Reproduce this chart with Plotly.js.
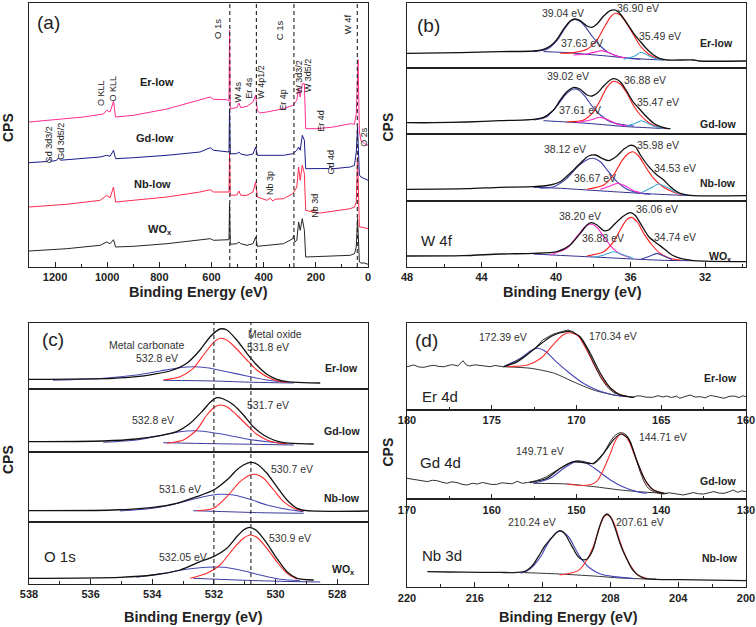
<!DOCTYPE html>
<html><head><meta charset="utf-8">
<script src="https://cdn.plot.ly/plotly-3.0.1.min.js"></script>
<style>html,body{margin:0;padding:0;background:#fff}#chart{width:756px;height:627px}</style>
</head><body><div id="chart"></div>
<script>
// ===== (a) survey spectra: binding energy (eV) and counts (arb.) =====
const surveyErBE = [1300,1219,1091,1015,1002,989,976,968,899,771,644,605,592,541,533,531,528,503,495,488,464,441,431,424,416,388,324,288,273,266,260,252,244,239,196,132,68,52,45,38,33,27,14,0];
const surveyErI  = [145,146.7,150,153,156.7,155,165.7,150,151.7,158,166.7,170,167.7,167.3,166,237,158.3,159.3,164,159.3,160.7,165,171.7,156.7,154,155,158.3,161.7,166.7,178.3,170,183.3,183.3,138.3,138.3,140,143.3,142.7,153.3,207.3,135,126.7,123.3,121.7];
const surveyGdBE = [1300,1230,1222,1212,1195,1187,1178,1027,1002,989,976,968,899,771,644,605,592,536,533,531,528,503,495,488,464,441,431,424,388,324,288,273,266,260,252,244,239,196,150,145,140,132,68,52,45,40,33,27,14,0];
const surveyGdI  = [104.3,105.5,108,105.8,106.5,109,106.8,110,111.7,110.7,116.7,108.3,109.3,111.7,115,119.3,116.7,115,115,158.3,113.3,113.3,115,113,111.7,113,120,111.7,111.7,111.7,113.3,116.7,120,116.7,131.7,126.7,98.3,98.3,98.5,101,98.5,98.3,100,101.7,115,140,92,90,88.3,86.7];
const surveyNbBE = [1300,1155,1027,1002,989,976,968,899,771,644,605,592,536,533,531,528,503,495,488,464,441,431,424,388,375,365,356,324,288,273,266,260,252,244,239,212,207,202,183,68,52,45,40,33,27,14,0];
const surveyNbI  = [60,62.7,66.7,71.7,69.3,80,65,66.7,70,75,77.3,75,75,75,113.7,71.7,72,76,71.7,71.7,75,85,70,66.7,68.8,66,67.8,68.3,73.3,80,100,86.7,101.7,93.3,56.7,55,58,54.5,54,58.3,60,65,110,40,40,39,38.3];
const surveyWoBE = [1300,1155,1027,1002,989,976,968,899,771,644,605,592,536,533,531,528,503,495,488,464,441,431,424,388,324,288,285,280,273,266,260,252,244,239,196,132,68,52,45,40,33,27,14,0];
const surveyWoI  = [16,18.3,21.7,25,23.3,27.3,20,20.7,23.3,26.7,28.3,26.7,27.3,27.3,64,22.7,23.3,25,23.3,21.7,23.3,30,20.7,21.7,23.3,28.3,31.7,25,26.7,45,36.7,48.3,36.7,10,10.3,11,11.7,13.3,20,48.3,5,4,4,2.7];
const surveyRefLines = [530, 428, 284, 41];
const surveyLabels = [['O 1s',218,29],['C 1s',279.3,30],['W 4f',348.3,24],['O KLL',101.7,93.3],['O KLL',113.3,88.3],['W 3d3/2',299,76.7],['W 3d5/2',308.3,75],['W 4s',237.7,91.7],['Er 4s',249.3,87.5],['W 4p1/2',261,81.7],['Er 4p',283.3,99.5],['Er 4d',321,120.8],['O 2s',364,136.7],['Gd 3d3/2',49.3,145],['Gd 3d5/2',61,141.7],['Gd 4d',330,162.5],['Nb 3p',270.7,183.3],['Nb 3d',315,205.8]];

// ===== (b) W 4f : [BE, counts] =====
const bErEnv = [[48,15],[45.15,15.7],[43,16.7],[41.21,17.3],[40.67,19],[40.31,22.3],[39.95,29],[39.6,39],[39.24,47.3],[38.97,49.3],[38.7,47.7],[38.34,42.3],[38.07,41],[37.8,44.3],[37.44,52.3],[37.09,57.7],[36.82,58.3],[36.55,54.3],[36.19,45],[35.83,35],[35.47,26.7],[35.11,19],[34.76,13.3],[34.4,9.7],[34.04,8.3],[32.61,8.3],[32.34,7.3],[29.8,7.3]];
const bErBlue = [[41.21,16.7],[40.49,19],[39.95,27.7],[39.6,37.7],[39.24,46.7],[39.06,48.7],[38.79,47.7],[38.43,41.7],[38.07,32.3],[37.62,22.3],[37.18,15.7],[36.73,12.3],[36.19,10],[35.47,9]];
const bErRed = [[39.77,15],[39.06,15.7],[38.34,19],[37.8,28.3],[37.44,40],[37.09,51],[36.82,55],[36.55,53.3],[36.19,44.3],[35.83,33.3],[35.47,22.3],[35.02,14],[34.58,10],[34.22,8.3]];
const bErMag = [[39.06,13.3],[38.34,14.3],[37.8,16.7],[37.53,17.7],[37.18,15.7],[36.73,12.3],[36.19,10]];
const bErCyan = [[36.37,9],[35.83,11.7],[35.44,16],[35.11,13.3],[34.67,9.7],[34.22,8]];
const bErBg = [[40.67,16.7],[39.42,15.7],[38.34,14],[37.27,12.3],[36.19,10.3],[35.11,9],[34.22,8.3]];

const bGdEnv = [[48,10.8],[46.59,10.8],[44.79,11.5],[43,12.8],[41.21,14.2],[40.67,16.2],[40.13,23.5],[39.77,33.5],[39.42,41.8],[39.02,46.2],[38.7,44.2],[38.34,38.5],[38.07,37.5],[37.8,40.2],[37.44,47.5],[37.09,53.5],[36.87,54.8],[36.55,51.8],[36.19,41.8],[35.83,30.8],[35.47,23.5],[35.11,16.2],[34.76,10.2],[34.4,6.8],[34.04,5.2],[33.86,4.8]];
const bGdBlue = [[41.21,13.5],[40.49,16.8],[39.95,27.5],[39.51,38.5],[39.06,44.5],[38.79,43.5],[38.43,36.8],[38.07,27.5],[37.62,18.5],[37.09,11.8],[36.55,9.2],[35.83,7.5]];
const bGdRed = [[39.42,11.5],[38.52,13.5],[37.98,21.8],[37.62,33.5],[37.27,46.2],[36.91,52.2],[36.55,49.5],[36.19,40.2],[35.83,27.5],[35.47,18.5],[35.02,10.8],[34.58,6.8],[34.13,5.2]];
const bGdMag = [[38.88,10.8],[38.16,13.5],[37.66,16.2],[37.18,13.5],[36.73,9.5],[36.19,7.5]];
const bGdCyan = [[36.19,7.5],[35.74,10.2],[35.44,12.8],[35.08,10.2],[34.67,6.8],[34.22,5.2]];
const bGdBg = [[40.67,12.8],[39.42,11.5],[38.34,10.2],[37.27,8.5],[36.19,6.8],[35.11,5.8],[34.04,4.8]];

const bNbEnv = [[48,11.2],[44.79,11.8],[43,13.2],[41.21,13.8],[40.31,15.5],[39.77,18.8],[39.24,27.2],[38.7,37.2],[38.25,44.5],[37.89,45.5],[37.53,42.2],[37.18,39.8],[36.73,44.5],[36.37,51.2],[36.01,55.2],[35.74,53.8],[35.47,45.5],[35.02,33.8],[34.58,25.5],[34.22,20.5],[33.86,13.8],[33.5,8.8],[33.14,6.2],[32.61,4.8],[29.8,4.8]];
const bNbBlue = [[40.85,12.2],[40.13,13.8],[39.42,22.2],[38.88,33.2],[38.43,39.8],[38.02,42.2],[37.62,38.8],[37.18,28.8],[36.73,18.8],[36.19,11.2],[35.65,7.8],[34.94,6.2]];
const bNbRed = [[38.34,11.2],[37.44,15.5],[36.91,25.5],[36.46,39.8],[36.1,47.2],[35.88,48.8],[35.56,44.5],[35.2,33.8],[34.76,22.2],[34.22,13.2],[33.68,8.2],[33.23,5.5]];
const bNbMag = [[37.62,11.2],[37.09,14.5],[36.69,17.2],[36.28,14.5],[35.83,9.8],[35.29,7.2]];
const bNbCyan = [[35.47,7.2],[34.94,12.2],[34.49,16.5],[34.04,13.2],[33.5,7.8],[32.96,5.5]];
const bNbBg = [[41.21,13.2],[39.77,12.2],[38.34,10.5],[36.91,8.8],[35.47,7.2],[34.04,5.8],[32.61,4.8]];

const bWoEnv = [[48,10.7],[45,11],[43,12.7],[41.21,13.3],[39.95,15],[39.24,21.7],[38.7,33.3],[38.34,41.7],[38.13,44],[37.8,41.7],[37.44,36],[37.18,36.7],[36.82,43.3],[36.37,50.7],[36.01,54],[35.74,51.3],[35.47,43.3],[35.02,30],[34.58,23.3],[34.22,18.3],[33.77,11.7],[33.32,8.3],[32.61,6],[29.8,5]];
const bWoMag = [[40.31,11.7],[39.42,18.3],[38.88,30],[38.43,40],[38.16,42.7],[37.8,39.3],[37.44,30],[37,19.3],[36.55,12.7],[36.01,9.3]];
const bWoRed = [[38.34,10.7],[37.44,15],[36.91,25],[36.46,40],[36.19,47.3],[35.97,49.3],[35.65,45],[35.29,33.3],[34.85,21.7],[34.4,13.3],[33.86,8.3],[33.32,6.7]];
const bWoCyan = [[37.98,9.3],[37.44,11.7],[36.91,15],[36.37,11.7],[35.83,8.3]];
const bWoBlue = [[35.47,7.3],[34.94,10.7],[34.58,13.3],[34.22,10.7],[33.77,7.3]];
const bWoBg = [[41.21,12.7],[39.77,11.3],[38.34,10],[36.91,8.7],[35.47,7.3],[34.04,6.3],[32.61,6]];

// ===== (c) O 1s =====
const cErEnv = [[538,9.7],[535.27,10.7],[534.51,12.3],[533.97,14.7],[533.42,18],[532.88,25.7],[532.45,39],[532.12,52.3],[531.8,60],[531.58,59],[531.26,49],[530.93,35.7],[530.61,24],[530.28,14.7],[529.96,9.7],[529.63,7.3],[529.09,6.3],[528.55,6]];
const cErRed = [[533.64,9],[533.1,12.3],[532.67,20.7],[532.34,34],[532.01,46.7],[531.8,50.7],[531.58,49],[531.26,40],[530.93,29],[530.61,19],[530.28,12.3],[529.96,8.3],[529.63,6.7]];
const cErBlue = [[537.22,8.7],[535.59,10.7],[534.51,14],[533.75,18],[533.1,21.3],[532.67,22.3],[532.23,21.3],[531.58,17.3],[530.93,13],[530.28,9],[529.63,6.7]];
const cErBg = [[533.64,8.7],[532.01,8],[530.72,6.7],[529.41,6]];
const cGdEnv = [[538,10.3],[535.59,11],[534.51,13],[533.75,16.3],[533.21,20.3],[532.77,28.7],[532.39,40.3],[532.12,49.7],[531.91,54.3],[531.69,53],[531.36,47],[531.04,37],[530.72,25.3],[530.39,17],[530.06,12],[529.74,9.3],[529.2,8.3],[528.76,8]];
const cGdRed = [[533.53,8.7],[532.99,12],[532.56,22],[532.23,37],[531.96,45.3],[531.8,47],[531.58,45.3],[531.26,37],[530.93,27],[530.61,17.7],[530.28,12],[529.96,9.3],[529.63,8.3]];
const cGdBlue = [[535.59,9.7],[534.51,12],[533.64,17],[533.1,20.3],[532.67,21.3],[532.23,20.3],[531.58,17],[530.93,13],[530.28,10.3],[529.63,8.3]];
const cGdBg = [[533.64,9.3],[532.01,8.3],[530.72,7.7],[529.41,7]];
const cNbEnv = [[538,10.8],[535.27,11.5],[533.97,14.2],[533.21,18.2],[532.56,24.8],[532.01,31.5],[531.58,41.5],[531.26,51.5],[531.04,56.5],[530.82,59.2],[530.61,57.5],[530.28,48.2],[529.96,34.8],[529.63,21.5],[529.3,13.2],[528.98,10.8],[527,10.5]];
const cNbRed = [[532.56,10.8],[532.01,13.2],[531.58,24.8],[531.15,39.8],[530.82,46.5],[530.66,47.2],[530.39,43.2],[530.06,31.5],[529.74,19.8],[529.41,13.2],[529.09,10.5]];
const cNbBlue = [[535.05,10.5],[533.97,13.2],[533.1,18.8],[532.34,24.8],[531.8,27.2],[531.36,26.5],[530.82,22.2],[530.28,16.5],[529.63,12.2],[529.09,9.8]];
const cNbBg = [[532.67,10.8],[531.58,9.8],[530.5,8.8],[529.09,8.2]];
const cWoEnv = [[538,5.7],[535.05,6.7],[533.97,9],[533.1,14],[532.45,22.3],[532.01,27.3],[531.58,35.7],[531.26,47.3],[531.04,54],[530.85,56.7],[530.61,53.3],[530.28,40.7],[529.96,25.7],[529.63,12.3],[529.3,5.7],[528.76,4]];
const cWoRed = [[532.77,5.7],[532.23,10.7],[531.8,19],[531.36,35.7],[531.04,45.7],[530.82,49],[530.61,46.7],[530.28,35.7],[529.96,22.3],[529.63,10.7],[529.3,4.7]];
const cWoBlue = [[534.51,6.7],[533.64,10.7],[532.88,14.7],[532.23,16.7],[531.69,16.7],[531.15,14],[530.5,9],[529.85,4.7],[529.2,3.3]];
const cWoBg = [[532.67,5.7],[531.26,4],[529.85,2.7],[528.55,2]];
const cRefLines = [532.0, 530.8];

// ===== (d) Er 4d, Gd 4d, Nb 3d =====
const dErRaw = [[180,43.3],[179.8,44.5],[179.6,45],[179.3,43],[179,42.7],[178.7,44],[178.4,44.7],[178.1,43.5],[177.8,43.3],[177.5,44.8],[177.3,45.3],[177,44],[176.7,49.3],[176.5,45],[176.3,44],[176,45.2],[175.7,44.7],[175.4,43.6],[175.1,43.3],[174.8,44.5],[174.5,44],[174.3,43.2],[174.1,45],[173.7,47.3],[173.1,53.3],[172.5,60.7],[172,70],[171.4,75.7],[170.9,78.3],[170.5,80],[170.2,78.3],[169.8,73.3],[169.4,61.7],[169,46.7],[168.6,33.3],[168.2,23.3],[167.8,17.3],[167.4,15],[167,13.3],[166.7,12.5],[166.4,14.2],[166.2,14],[165.9,12.8],[165.5,12.7],[165.2,14.3],[164.9,13],[164.7,14],[164.4,12.5],[164.1,13.8],[163.9,11.7],[163.6,13.5],[163.3,15],[163,13],[162.7,13.3],[162.4,12.2],[162.1,14.5],[161.9,14],[161.6,12.6],[161.3,11.7],[161,13.6],[160.7,14],[160.4,12.4],[160.2,14.2],[160,13.3]];
const dErEnv = [[174.3,43.3],[173.5,48],[173,54],[172.5,61],[172,67.5],[171.5,73.5],[171,77],[170.4,78.5],[169.8,73.5],[169.2,57],[168.6,37],[168,22],[167.4,15],[166.6,12.7]];
const dErBlue = [[174.3,43.3],[173.3,51.7],[172.7,59.3],[172.3,61.7],[171.8,58.3],[171.2,48.3],[170.4,36.7],[169.6,26.7],[168.8,20],[167.8,15],[167,13.3]];
const dErRed = [[174.1,43.3],[172.9,45],[172.1,51.7],[171.3,66.7],[170.8,75],[170.4,77.3],[169.9,74],[169.4,60],[168.8,40],[168.2,25],[167.6,16.7],[167,13.3]];
const dErBg = [[174.3,43.3],[172.7,41.7],[171.3,36.7],[170.2,28.3],[169,20],[167.8,15],[166.6,12.7]];
const dGdRaw = [[170,21],[169.4,20],[168.8,19.3],[168.2,18],[167.6,17.7],[167,19],[166.5,18.7],[165.9,17.2],[165.3,16],[164.7,17.5],[164.1,16.7],[163.5,15],[162.9,14.3],[162.3,16],[161.7,15.3],[161.1,16.8],[160.6,16],[160,14.8],[159.4,15],[158.8,16.5],[158.2,16],[157.6,15.5],[157,18],[156.4,16],[155.8,16.7],[155.2,17.5],[154.7,18.7],[154.1,20.5],[153.5,22.7],[152.9,26],[152.3,29.3],[151.7,32.5],[151.1,35.3],[150.5,37.5],[149.9,38.7],[149.3,38],[148.8,36.7],[148.4,36],[148,35.3],[147.6,37.5],[147.2,41],[146.8,46],[146.4,52.7],[146,58],[145.6,62.7],[145.2,65.5],[144.8,66.7],[144.4,66],[144,63.3],[143.6,57],[143.3,49.3],[142.9,38],[142.5,27.7],[142.1,19],[141.7,12.7],[141.3,9.5],[140.9,7.7],[140.3,6],[139.7,5.3],[139.1,6.5],[138.5,6],[137.9,5],[137.4,4.3],[136.8,5.8],[136.2,6.7],[135.6,5.5],[135,5.3],[134.4,6.5],[133.8,7.7],[133.2,6.2],[132.6,6],[132,7.5],[131.5,9.3],[131,7],[130.5,8.4],[130,7.7]];
const dGdEnv = [[155.5,16.7],[153.5,21],[151.9,31],[150.3,37.7],[149.2,36.7],[148,36],[146.8,46],[145.6,60],[144.8,65.3],[143.9,61],[142.9,39.3],[141.9,19.3],[140.9,9.3],[139.7,6]];
const dGdBlue = [[155.1,16],[153.1,21],[151.5,31],[150.3,37],[149.7,37.7],[148.8,36],[147.6,29.3],[146,19.3],[144.4,12],[142.9,7.7],[141.7,6]];
const dGdRed = [[151.1,15.3],[149.5,13.8],[148.4,14.5],[147.6,18],[146.8,30],[146,46],[145.6,55],[145.1,63],[144.6,65.3],[144.1,62],[143.7,56],[143.2,45],[142.7,34],[142.2,24],[141.7,16],[141.2,11],[140.7,8.5],[139.7,6]];
const dGdBg = [[155.1,16],[151.1,15.3],[148,12.7],[144.8,9.3],[141.7,7],[139.3,6]];
const dNbRaw = [[218.8,15.7],[217.5,15.3],[215.7,15],[214.5,14.9],[213.7,14.7],[213.1,15.7],[212.8,18.5],[212.5,24],[212.2,32],[211.9,40.7],[211.6,47],[211.4,50.7],[211.2,54.5],[211,56.7],[210.8,55.5],[210.6,51.3],[210.4,45],[210.2,39],[210,33],[209.8,29],[209.6,27.5],[209.4,28],[209.2,32],[209,39],[208.85,48],[208.7,57.3],[208.55,65],[208.4,70.7],[208.2,73.3],[208.05,71.5],[207.9,67.3],[207.7,58],[207.5,47.3],[207.25,36],[207,27.3],[206.8,20.5],[206.6,15.7],[206.3,11.5],[206,9],[205.3,8],[203,7.5],[200,6.7]];
const dNbBlue = [[213.3,14],[212.9,16.5],[212.5,22.3],[212.1,31],[211.8,40.7],[211.4,51],[211,56],[210.7,54],[210.4,49],[210.1,39.5],[209.8,30.7],[209.5,24],[209.2,19],[208.6,13.3],[207.8,10.7],[206.6,8.7]];
const dNbRed = [[211,12.3],[210.2,14.7],[209.8,18],[209.4,27],[209,41],[208.8,52],[208.6,62],[208.4,70],[208.2,72.7],[208,70.5],[207.8,64.7],[207.6,55],[207.4,44],[207.15,33],[206.9,24],[206.6,16.5],[206.4,12.3],[205.8,8.7]];
const dNbBg = [[213.1,14.7],[211,13.3],[209,11.3],[207.4,9.3],[205.3,8]];

// ===== drawing =====
const W = 756, H = 627;
const FONT = 'Liberation Sans, Arial, Helvetica, sans-serif';
const NARROW = 'Liberation Sans Narrow, Arial Narrow, Liberation Sans, sans-serif';
const INK = '#222';
const DASH = '4px,3px';
const traces = [];
const layout = {width:W, height:H, margin:{l:0,r:0,t:0,b:0}, showlegend:false,
  paper_bgcolor:'#fff', plot_bgcolor:'rgba(0,0,0,0)', font:{family:FONT,color:INK},
  annotations:[], shapes:[]};
const sfx = n => n === 1 ? '' : String(n);

function addAxes(n, xrange, l, r, t, b, ticks) {
  const xa = {range:xrange, domain:[l/W, r/W], anchor:'y'+sfx(n), showline:true, mirror:true,
    linecolor:INK, linewidth:1, showgrid:false, zeroline:false, ticks:'', showticklabels:false,
    tickmode:'array', tickvals:[], fixedrange:true};
  if (ticks) {
    delete xa.tickmode; delete xa.tickvals;
    Object.assign(xa, {ticks:'inside', ticklen:5, tickwidth:1, tickcolor:INK, showticklabels:true,
      dtick:ticks[0], tick0:0, tickfont:{family:FONT, size:11, weight:'bold', color:INK},
      minor:{ticks:'inside', ticklen:3, dtick:ticks[1], tick0:0, tickcolor:INK}});
  }
  layout['xaxis'+sfx(n)] = xa;
  layout['yaxis'+sfx(n)] = {range:[0, b-t], domain:[1-b/H, 1-t/H], anchor:'x'+sfx(n), showline:true, mirror:true,
    linecolor:INK, linewidth:1, showgrid:false, zeroline:false, ticks:'', showticklabels:false,
    tickmode:'array', tickvals:[], fixedrange:true};
}
function line(xs, ys, n, color, width, shape) {
  traces.push({x:xs, y:ys, xaxis:'x'+sfx(n), yaxis:'y'+sfx(n), mode:'lines', hoverinfo:'skip',
    line:{color:color, width:width, shape:shape||'linear', smoothing:0.7}});
}
function curve(pairs, n, color, width, shape) {
  line(pairs.map(p=>p[0]), pairs.map(p=>p[1]), n, color, width, shape || 'spline');
}
function A(text, px, py, size, opt) {
  layout.annotations.push(Object.assign({text:text, x:px/W, y:1-py/H, xref:'paper', yref:'paper',
    showarrow:false, xanchor:'center', yanchor:'middle', font:{family:FONT, size:size, color:INK}}, opt||{}));
}

// (a)
addAxes(1, [1300, 0], 29, 368, 3, 267, [200, 100]);
line(surveyWoBE, surveyWoI, 1, '#262626', 1);
line(surveyNbBE, surveyNbI, 1, '#ff2b4e', 1);
line(surveyGdBE, surveyGdI, 1, '#1b1b8a', 1);
line(surveyErBE, surveyErI, 1, '#ff2d8f', 1);
surveyRefLines.forEach(v => layout.shapes.push({type:'line', xref:'x', yref:'y domain', x0:v, x1:v, y0:0, y1:1,
  line:{color:INK, width:1.1, dash:DASH}}));
surveyLabels.forEach(s => A(s[0], s[1], s[2], s[2] < 40 ? 9.5 : 9, {textangle:-90, font:{family:NARROW, size:s[2] < 40 ? 9.5 : 9, color:INK}}));
A('<b>Er-low</b>', 157, 82, 11); A('<b>Gd-low</b>', 155, 138, 11); A('<b>Nb-low</b>', 152, 183.5, 11);
A('<b>WO<sub>x</sub></b>', 160, 230, 11);
A('(a)', 48, 22, 19);

// (b)
const bBoxes = [[3,68.3],[68.3,133.5],[133.5,200.5],[200.5,266.7]];
bBoxes.forEach((bx, i) => addAxes(2+i, [48, 29.8], 407, 746, bx[0], bx[1], i === 3 ? [4, 2] : null));
const bSets = [
  [bErBg, bErBlue, bErRed, bErMag, bErCyan, bErEnv, ['#3d3dab','#ff1a1a','#ff22cc','#3fa7d6']],
  [bGdBg, bGdBlue, bGdRed, bGdMag, bGdCyan, bGdEnv, ['#3d3dab','#ff1a1a','#ff22cc','#3fa7d6']],
  [bNbBg, bNbBlue, bNbRed, bNbMag, bNbCyan, bNbEnv, ['#3d3dab','#ff1a1a','#ff22cc','#3fa7d6']],
  [bWoBg, bWoMag, bWoRed, bWoCyan, bWoBlue, bWoEnv, ['#ff22cc','#ff1a1a','#3fa7d6','#3d3dab']]
];
bSets.forEach((s, i) => {
  const n = 2 + i;
  curve(s[0], n, '#2d2d8f', 1);
  for (let k = 1; k <= 4; k++) curve(s[k], n, s[6][k-1], 1.1);
  curve(s[5], n, '#111', 1.3);
});
[['39.04 eV',563.3,13.3],['36.90 eV',638.3,8.3],['37.63 eV',581.7,42.7],['35.49 eV',660,35.7],
 ['39.02 eV',568.3,76],['36.88 eV',645,80],['37.61 eV',580,110],['35.47 eV',658.3,101.7],
 ['38.12 eV',565,149],['35.98 eV',658.3,145],['36.67 eV',595,178.3],['34.53 eV',675,168.3],
 ['38.20 eV',580,216],['36.06 eV',656.7,209.3],['36.88 eV',603.3,238.3],['34.74 eV',675,236.7]
].forEach(s => A(s[0], s[1], s[2], 10.5, {font:{family:FONT, size:10.5, color:'#333'}}));
A('<b>Er-low</b>', 716.7, 43.3, 10.5); A('<b>Gd-low</b>', 718.3, 124, 10.5); A('<b>Nb-low</b>', 718.3, 183.3, 10.5);
A('<b>WO<sub>x</sub></b>', 720, 257.3, 10.5);
A('(b)', 428.3, 25, 19); A('W 4f', 436.7, 240, 15);

// (c)
const cBoxes = [[323,389],[389,452],[452,521.5],[521.5,584]];
cBoxes.forEach((bx, i) => addAxes(6+i, [538, 527], 29, 368, bx[0], bx[1], i === 3 ? [2, 1] : null));
const cSets = [[cErBg,cErBlue,cErRed,cErEnv],[cGdBg,cGdBlue,cGdRed,cGdEnv],[cNbBg,cNbBlue,cNbRed,cNbEnv],[cWoBg,cWoBlue,cWoRed,cWoEnv]];
cSets.forEach((s, i) => {
  const n = 6 + i;
  curve(s[0], n, '#3a3a9a', 1);
  curve(s[1], n, '#4848b4', 1.1);
  curve(s[2], n, '#ff2a2a', 1.1);
  curve(s[3], n, '#111', 1.3);
});
cRefLines.forEach(v => layout.shapes.push({type:'line', xref:'x9', yref:'paper', x0:v, x1:v, y0:1-584/H, y1:1-323/H,
  line:{color:INK, width:1.1, dash:DASH}}));
[['Metal carbonate',146.7,345],['532.8 eV',156.7,358.3],['Metal oxide',275,334.3],['531.8 eV',268.3,347.3],
 ['532.8 eV',153.3,420],['531.7 eV',268.3,405],['531.6 eV',180,489],['530.7 eV',291.7,469.3],
 ['532.05 eV',183.3,556.7],['530.9 eV',290,538.3]
].forEach(s => A(s[0], s[1], s[2], 10.5, {font:{family:FONT, size:10.5, color:'#333'}}));
A('<b>Er-low</b>', 341.7, 367.7, 10.5); A('<b>Gd-low</b>', 341.7, 431, 10.5); A('<b>Nb-low</b>', 341.7, 498.3, 10.5);
A('<b>WO<sub>x</sub></b>', 343.3, 570, 10.5);
A('(c)', 52.7, 339, 19); A('O 1s', 60, 556, 15);

// (d)
addAxes(10, [180, 160], 407, 746, 322.7, 410, [5, 2.5]);
addAxes(11, [170, 130], 407, 746, 410, 499.3, [10, 5]);
addAxes(12, [220, 200], 407, 746, 499.3, 587.3, [4, 2]);
const dSets = [[dErRaw,dErBg,dErBlue,dErRed,dErEnv],[dGdRaw,dGdBg,dGdBlue,dGdRed,dGdEnv],[dNbRaw,dNbBg,dNbBlue,dNbRed,null]];
dSets.forEach((s, i) => {
  const n = 10 + i;
  curve(s[1], n, '#333', 1);
  curve(s[2], n, '#4545b8', 1.1);
  curve(s[3], n, '#ff3030', 1.1);
  curve(s[0], n, '#1a1a1a', i === 2 ? 1.3 : 0.9, i === 2 ? 'spline' : 'linear');
  if (s[4]) curve(s[4], n, '#111', 1.2);
});
[['172.39 eV',503.3,336.7],['170.34 eV',613.3,335.7],['149.71 eV',540,451],['144.71 eV',663.3,436.7],
 ['210.24 eV',531.7,521.7],['207.61 eV',640,522.3]
].forEach(s => A(s[0], s[1], s[2], 10.5, {font:{family:FONT, size:10.5, color:'#333'}}));
A('<b>Er-low</b>', 720, 378.3, 10.5); A('<b>Gd-low</b>', 718.3, 480.7, 10.5); A('<b>Nb-low</b>', 720, 558.3, 10.5);
A('Er 4d', 440, 396, 15); A('Gd 4d', 440, 462.7, 15); A('Nb 3d', 441.7, 555, 15);
A('(d)', 426.7, 340, 19);

// axis titles
[[198,292],[572.5,292],[193.3,616.5],[568.3,616.5]].forEach(p => A('<b>Binding Energy (eV)</b>', p[0], p[1], 14.5));
[[8,128],[387.5,127],[8,460],[387.5,452]].forEach(p => A('<b>CPS</b>', p[0], p[1], 14, {textangle:-90}));

Plotly.newPlot('chart', traces, layout, {staticPlot:true, displayModeBar:false});
</script>
</body></html>
